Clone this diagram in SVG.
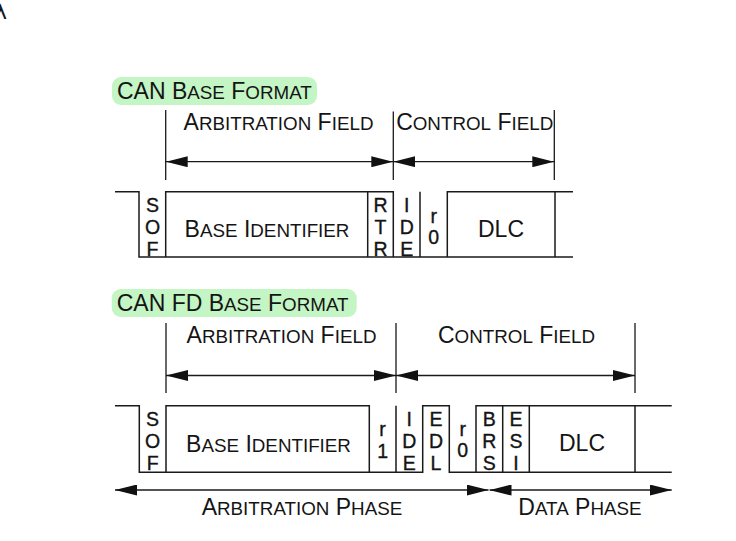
<svg xmlns="http://www.w3.org/2000/svg" width="736" height="541" viewBox="0 0 736 541">
<style>
  text { font-family: "Liberation Sans", Arial, sans-serif; fill: #141414; }
  .h { font-size: 23px; }
  .s { font-size: 18.8px; }
  .st { font-size: 19.5px; text-anchor: middle; stroke: #141414; stroke-width: 0.35; }
  .mid { text-anchor: middle; }
  .pill { fill: #c4f5c4; }
  .frame { fill: none; stroke: #1a1a1a; stroke-width: 1.5; }
  .dim { fill: none; stroke: #1a1a1a; stroke-width: 1.3; }
  .arr { stroke: #1a1a1a; stroke-width: 1.3; marker-start: url(#ah); marker-end: url(#ah); }
</style>
<defs>
  <marker id="ah" viewBox="0 0 22 11" refX="22" refY="5.5" markerWidth="22" markerHeight="11" markerUnits="userSpaceOnUse" orient="auto-start-reverse">
    <path d="M0,0 L22,5.5 L0,11 z" fill="#111"/>
  </marker>
</defs>
<rect width="736" height="541" fill="#ffffff"/>
<text x="-6" y="19" style="font-family:'DejaVu Sans',sans-serif;font-size:22px">λ</text>

<!-- ===== CAN Base Format ===== -->
<g id="title-base">
  <rect class="pill" x="112" y="77" width="205" height="28" rx="9"/>
  <text class="h" x="117" y="99">CAN B<tspan class="s">ASE</tspan> F<tspan class="s">ORMAT</tspan></text>
</g>
<g id="label-arb-1">
  <text class="h mid" x="278.5" y="130">A<tspan class="s">RBITRATION</tspan> F<tspan class="s">IELD</tspan></text>
</g>
<g id="label-ctrl-1">
  <text class="h mid" x="474.7" y="129.5">C<tspan class="s">ONTROL</tspan> F<tspan class="s">IELD</tspan></text>
</g>

<g id="frame-1">
  <path class="frame" d="M115,191.7 H139 V257 H573"/>
  <path class="frame" d="M165.7,257 V191.7 H393.3 V257"/>
  <path class="frame" d="M367.7,191.7 V257 M420,191.7 V257 M555,191.7 V257"/>
  <path class="frame" d="M447.3,257 V191.7 H573"/>
</g>
<g id="sof-1"><text class="st"><tspan x="152.5" y="212">S</tspan><tspan x="152.5" y="233.8">O</tspan><tspan x="152.5" y="255.6">F</tspan></text></g>
<g id="baseid-1"><text class="h mid" x="267" y="237">B<tspan class="s">ASE</tspan> I<tspan class="s">DENTIFIER</tspan></text></g>
<g id="rtr-1"><text class="st"><tspan x="380.5" y="212">R</tspan><tspan x="380.5" y="233.8">T</tspan><tspan x="380.5" y="255.6">R</tspan></text></g>
<g id="ide-1"><text class="st"><tspan x="406.7" y="212">I</tspan><tspan x="406.7" y="233.8">D</tspan><tspan x="406.7" y="255.6">E</tspan></text></g>
<g id="r0-1"><text class="st"><tspan x="433.7" y="222.5">r</tspan><tspan x="433.7" y="244.3">0</tspan></text></g>
<g id="dlc-1"><text class="h mid" x="501" y="237">DLC</text></g>

<!-- ===== CAN FD Base Format ===== -->
<g id="title-fd">
  <rect class="pill" x="111.7" y="289" width="245" height="28" rx="9"/>
  <text class="h" x="116.7" y="311">CAN FD B<tspan class="s">ASE</tspan> F<tspan class="s">ORMAT</tspan></text>
</g>
<g id="label-arb-2">
  <text class="h mid" x="281.5" y="343">A<tspan class="s">RBITRATION</tspan> F<tspan class="s">IELD</tspan></text>
</g>
<g id="label-ctrl-2">
  <text class="h mid" x="516.5" y="343.3">C<tspan class="s">ONTROL</tspan> F<tspan class="s">IELD</tspan></text>
</g>

<g id="frame-2">
  <path class="frame" d="M115,405.7 H139.3 V472.3 H422.7 V405.7 H449.3 V472.3 H671.7"/>
  <path class="frame" d="M166,472.3 V405.7 H369.3 V472.3"/>
  <path class="frame" d="M396,405.7 V472.3 M502.7,405.7 V472.3 M529.3,405.7 V472.3 M635,405.7 V472.3"/>
  <path class="frame" d="M476,472.3 V405.7 H671.7"/>
</g>
<g id="sof-2"><text class="st"><tspan x="152.6" y="426">S</tspan><tspan x="152.6" y="447.8">O</tspan><tspan x="152.6" y="469.6">F</tspan></text></g>
<g id="baseid-2"><text class="h mid" x="268.5" y="451.5">B<tspan class="s">ASE</tspan> I<tspan class="s">DENTIFIER</tspan></text></g>
<g id="r1-2"><text class="st"><tspan x="382.6" y="436">r</tspan><tspan x="382.6" y="457.8">1</tspan></text></g>
<g id="ide-2"><text class="st"><tspan x="409.3" y="426">I</tspan><tspan x="409.3" y="447.8">D</tspan><tspan x="409.3" y="469.6">E</tspan></text></g>
<g id="edl-2"><text class="st"><tspan x="436" y="426">E</tspan><tspan x="436" y="447.8">D</tspan><tspan x="436" y="469.6">L</tspan></text></g>
<g id="r0-2"><text class="st"><tspan x="462.7" y="435.5">r</tspan><tspan x="462.7" y="457.3">0</tspan></text></g>
<g id="brs-2"><text class="st"><tspan x="489.3" y="426">B</tspan><tspan x="489.3" y="447.8">R</tspan><tspan x="489.3" y="469.6">S</tspan></text></g>
<g id="esi-2"><text class="st"><tspan x="516" y="426">E</tspan><tspan x="516" y="447.8">S</tspan><tspan x="516" y="469.6">I</tspan></text></g>
<g id="dlc-2"><text class="h mid" x="582" y="451">DLC</text></g>

<g id="label-arbphase"><text class="h" x="201.7" y="515">A<tspan class="s">RBITRATION</tspan> P<tspan class="s">HASE</tspan></text></g>
<g id="label-dataphase"><text class="h" x="518.3" y="515">D<tspan class="s">ATA</tspan> P<tspan class="s">HASE</tspan></text></g>

<!-- ===== connectors / dimension lines ===== -->
<g id="connectors">
  <path class="dim" d="M165.7,110 V180 M393.3,111.5 V180 M554.3,110 V180"/>
  <line class="arr" x1="165.7" y1="161.7" x2="393.3" y2="161.7"/>
  <line class="arr" x1="393.3" y1="161.7" x2="554.3" y2="161.7"/>

  <path class="dim" d="M166,323 V393 M396,323 V393 M635,323 V393"/>
  <line class="arr" x1="166" y1="375.5" x2="396" y2="375.5"/>
  <line class="arr" x1="396" y1="375.5" x2="635" y2="375.5"/>

  <line class="arr" x1="115" y1="490" x2="488.5" y2="490"/>
  <line class="arr" x1="489.5" y1="490" x2="671.7" y2="490"/>
</g>
</svg>
